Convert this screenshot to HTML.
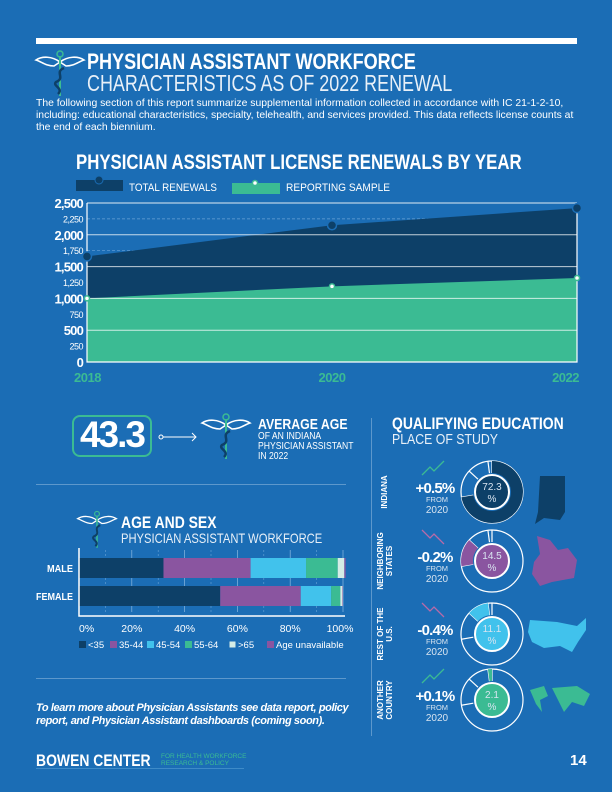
<!DOCTYPE html>
<html><head><meta charset="utf-8">
<style>
*{margin:0;padding:0;box-sizing:border-box}
body{width:612px;height:792px;background:#1b6db5;font-family:"Liberation Sans",sans-serif;color:#fff;position:relative;overflow:hidden}
.a{position:absolute;white-space:nowrap}
.b{font-weight:bold}
.sx{transform-origin:0 0;transform:scaleX(.82)}
</style></head><body>
<div class="a" style="left:36px;top:38px;width:541px;height:6px;background:#fff"></div>

<svg class="a" style="left:34px;top:50px" width="52" height="48" viewBox="0 0 52 48">
<path d="M26 12 C18 6 8 6 2 10 C8 12 12 16 20 16 Z" fill="none" stroke="#fff" stroke-width="1.6"/>
<path d="M26 12 C34 6 44 6 50 10 C44 12 40 16 32 16 Z" fill="none" stroke="#fff" stroke-width="1.6"/>
<line x1="26" y1="6" x2="26" y2="46" stroke="#3bbb93" stroke-width="2"/><circle cx="26" cy="4" r="3" fill="none" stroke="#3bbb93" stroke-width="1.5"/>
<path d="M30 18 C20 22 32 28 22 32 C18 36 30 38 24 44" fill="none" stroke="#0d4068" stroke-width="2.5"/>
</svg>
<div class="a b sx" style="left:87px;top:49px;font-size:22px">PHYSICIAN ASSISTANT WORKFORCE</div>
<div class="a sx" style="left:87px;top:70px;font-size:23px;transform:scaleX(.78);color:#e8f0f8">CHARACTERISTICS AS OF 2022 RENEWAL</div>
<div class="a" style="left:36px;top:98px;font-size:10.4px;line-height:12px">The following section of this report summarize supplemental information collected in accordance with IC 21-1-2-10,<br>including: educational characteristics, specialty, telehealth, and services provided. This data reflects license counts at<br>the end of each biennium.</div>

<div class="a b sx" style="left:76px;top:151px;font-size:21px;transform:scaleX(.8)">PHYSICIAN ASSISTANT LICENSE RENEWALS BY YEAR</div>
<svg class="a" id="chart" style="left:0;top:170px" width="612" height="220"></svg>

<div class="a" style="left:72px;top:415px;width:80px;height:42px;border:2px solid #3bbb93;border-radius:8px"></div>
<div class="a b" style="left:72px;top:414px;width:80px;text-align:center;font-size:37px;letter-spacing:-2px">43.3</div>
<svg class="a" style="left:158px;top:432px" width="42" height="10"><circle cx="3" cy="5" r="2" fill="none" stroke="#fff"/><line x1="5" y1="5" x2="38" y2="5" stroke="#fff"/><path d="M34 1 L38 5 L34 9" fill="none" stroke="#fff"/></svg>
<svg class="a" style="left:200px;top:412px" width="52" height="50" viewBox="0 0 52 48">
<path d="M26 12 C18 6 8 6 2 10 C8 12 12 16 20 16 Z" fill="none" stroke="#fff" stroke-width="1.6"/>
<path d="M26 12 C34 6 44 6 50 10 C44 12 40 16 32 16 Z" fill="none" stroke="#fff" stroke-width="1.6"/>
<line x1="26" y1="6" x2="26" y2="46" stroke="#3bbb93" stroke-width="2"/><circle cx="26" cy="4" r="3" fill="none" stroke="#3bbb93" stroke-width="1.5"/>
<path d="M30 18 C20 22 32 28 22 32 C18 36 30 38 24 44" fill="none" stroke="#0d4068" stroke-width="2.5"/>
</svg>
<div class="a b sx" style="left:258px;top:416px;font-size:15px">AVERAGE AGE</div>
<div class="a sx" style="left:258px;top:431px;font-size:10.5px;line-height:10px">OF AN INDIANA<br>PHYSICIAN ASSISTANT<br>IN 2022</div>

<div class="a" style="left:36px;top:484px;width:310px;height:1px;background:#5d98cc"></div>
<div class="a" style="left:371px;top:418px;width:1px;height:318px;background:#5d98cc"></div>

<svg class="a" style="left:76px;top:510px" width="42" height="40" viewBox="0 0 52 48">
<path d="M26 12 C18 6 8 6 2 10 C8 12 12 16 20 16 Z" fill="none" stroke="#fff" stroke-width="1.6"/>
<path d="M26 12 C34 6 44 6 50 10 C44 12 40 16 32 16 Z" fill="none" stroke="#fff" stroke-width="1.6"/>
<line x1="26" y1="6" x2="26" y2="46" stroke="#3bbb93" stroke-width="2"/><circle cx="26" cy="4" r="3" fill="none" stroke="#3bbb93" stroke-width="1.5"/>
<path d="M30 18 C20 22 32 28 22 32 C18 36 30 38 24 44" fill="none" stroke="#0d4068" stroke-width="2.5"/>
</svg>
<div class="a b sx" style="left:121px;top:513px;font-size:17px">AGE AND SEX</div>
<div class="a sx" style="left:121px;top:530px;font-size:14px;transform:scaleX(.8);color:#e8f0f8">PHYSICIAN ASSISTANT WORKFORCE</div>
<svg class="a" id="bars" style="left:30px;top:548px" width="330" height="110"></svg>

<div class="a" style="left:36px;top:678px;width:310px;height:1px;background:#5d98cc"></div>
<div class="a b" style="left:36px;top:702px;font-size:11px;line-height:13px;font-style:italic;letter-spacing:-.4px">To learn more about Physician Assistants see data report, policy<br>report, and Physician Assistant dashboards (coming soon).</div>

<div class="a b sx" style="left:392px;top:414px;font-size:17px">QUALIFYING EDUCATION</div>
<div class="a sx" style="left:392px;top:431px;font-size:15px;color:#e8f0f8">PLACE OF STUDY</div>
<svg class="a" id="edu" style="left:372px;top:450px" width="240" height="290"></svg>

<div class="a b" style="left:36px;top:751px;font-size:17px;transform-origin:0 0;transform:scaleX(.82)">BOWEN CENTER</div>
<div class="a" style="left:161px;top:753px;font-size:6.5px;line-height:7px;color:#3bbb93">FOR HEALTH WORKFORCE<br>RESEARCH &amp; POLICY</div>
<div class="a" style="left:36px;top:768px;width:208px;height:1px;background:#3e8bc8"></div>
<div class="a b" style="left:570px;top:752px;font-size:15px">14</div>

<script>
const NS="http://www.w3.org/2000/svg";
function mk(p,t,at){const e=document.createElementNS(NS,t);for(const k in at)e.setAttribute(k,at[k]);p.appendChild(e);return e;}

// ---------- renewals chart ----------
const years=["2018","2020","2022"];
const totalRenewals=[1660,2150,2420];
const reportingSample=[1000,1190,1320];
const yTicks=[0,250,500,750,1000,1250,1500,1750,2000,2250,2500];
const yTickLabels=["0","250","500","750","1,000","1,250","1,500","1,750","2,000","2,250","2,500"];
(function(){
 const s=document.getElementById('chart');
 const x0=87,x1=577,yb=192,yt=33,max=2500;
 const X=i=>x0+(x1-x0)*i/(years.length-1), Y=v=>yb-(yb-yt)*v/max;
 let l=mk(s,'rect',{x:76,y:10,width:47,height:11,fill:'#0d4068'});
 
 mk(s,'circle',{cx:99,cy:10,r:4,fill:'#0d4068',stroke:'#1b6db5','stroke-width':1});
 let t=mk(s,'text',{x:129,y:21,fill:'#fff','font-size':11,textLength:88,lengthAdjust:'spacingAndGlyphs'});t.textContent='TOTAL RENEWALS';
 
 l=mk(s,'rect',{x:232,y:13,width:48,height:11,fill:'#3bbb93'});
 
 mk(s,'circle',{cx:255,cy:13,r:2.5,fill:'#fff',stroke:'#3bbb93','stroke-width':1.5});
 t=mk(s,'text',{x:286,y:21,fill:'#fff','font-size':11,textLength:104,lengthAdjust:'spacingAndGlyphs'});t.textContent='REPORTING SAMPLE';
 
 yTicks.forEach((v,i)=>{ if(v%500!==0){const g=mk(s,'line',{x1:x0,x2:x1,y1:Y(v),y2:Y(v),stroke:'#6aa3d6','stroke-width':.7,'stroke-dasharray':'3 2'});}});
 let d='M'+x0+','+Y(0);totalRenewals.forEach((v,i)=>d+=' L'+X(i)+','+Y(v));d+=' L'+x1+','+Y(0)+'Z';
 const a1=mk(s,'path',{d:d,fill:'#0d4068'});
 d='M'+x0+','+Y(0);reportingSample.forEach((v,i)=>d+=' L'+X(i)+','+Y(v));d+=' L'+x1+','+Y(0)+'Z';
 const a2=mk(s,'path',{d:d,fill:'#3bbb93'});
 yTicks.forEach((v,i)=>{ if(v%500===0&&v>0){const g=mk(s,'line',{x1:x0,x2:x1,y1:Y(v),y2:Y(v),stroke:'#fff','stroke-width':1,'stroke-opacity':.75});}});
 yTicks.forEach((v,i)=>{const maj=v%500===0;const tt=mk(s,'text',{x:x0-4,y:Y(v)+(maj?5:3.5),fill:'#fff','font-size':maj?13:9,'font-weight':maj?'bold':'normal','text-anchor':'end','letter-spacing':maj?-.8:-.5});tt.textContent=yTickLabels[i];});
 const ax=mk(s,'polyline',{points:`${x0},${Y(2500)} ${x0},${Y(0)} ${x1},${Y(0)} ${x1},${Y(2500)}`,fill:'none',stroke:'#fff','stroke-width':1.2});
 mk(s,'line',{x1:x0,x2:x1,y1:Y(2500),y2:Y(2500),stroke:'#fff','stroke-width':.8,'stroke-opacity':.6});
 years.forEach((yv,i)=>{
  const c=mk(s,'circle',{cx:X(i),cy:Y(totalRenewals[i]),r:4.5,fill:'#0d4068',stroke:'#1b6db5','stroke-width':1.5});
  const c2=mk(s,'circle',{cx:X(i),cy:Y(reportingSample[i]),r:2.5,fill:'#fff',stroke:'#3bbb93','stroke-width':1.5});
  const anc=i===0?'start':(i===years.length-1?'end':'middle');
  const tt=mk(s,'text',{x:i===0?X(i)-13:(i===years.length-1?X(i)+2:X(i)),y:Y(0)+20,fill:'#3bbb93','font-size':13,'font-weight':'bold','text-anchor':anc,'letter-spacing':-.5});tt.textContent=yv;
 });
})();

// ---------- age & sex bars ----------
const sexes=["MALE","FEMALE"];
const ageGroups=["<35","35-44","45-54","55-64",">65","Age unavailable"];
const maleShares=[32,33,21,12,2.5,0.5];
const femaleShares=[53.5,30.5,11.5,3.5,0.8,0.2];
const pctTicks=[0,20,40,60,80,100];
(function(){
 const s=document.getElementById('bars');
 const colors=['#0d4068','#8a55a0','#41c2ec','#3bbb93','#d4ece6','#8a55a0'];
 const x0=49,x1=313,X=v=>x0+(x1-x0)*v/100;
 const rows=[maleShares,femaleShares],ys=[10,38],h=20;
 [10,30,50,70,90].forEach(v=>{const g=mk(s,'line',{x1:X(v),x2:X(v),y1:2,y2:64,stroke:'#6aa3d6','stroke-width':.6,'stroke-dasharray':'2 2'});});
 pctTicks.slice(1).forEach(v=>{const g=mk(s,'line',{x1:X(v),x2:X(v),y1:2,y2:64,stroke:'#8ab8e0','stroke-width':.7});});
 const lw=[26,37];
 rows.forEach((r,ri)=>{let acc=0;r.forEach((v,i)=>{const b=mk(s,'rect',{x:X(acc),y:ys[ri],width:X(acc+v)-X(acc),height:h,fill:colors[i]});acc+=v;});
  const t=mk(s,'text',{x:43-lw[ri],y:ys[ri]+14,fill:'#fff','font-size':10.5,'font-weight':'bold',textLength:lw[ri],lengthAdjust:'spacingAndGlyphs'});t.textContent=sexes[ri];});
 const ax=mk(s,'polyline',{points:`${x0},0 ${x0},68 ${x1+2},68`,fill:'none',stroke:'#fff','stroke-width':1.5});
 pctTicks.forEach(v=>{const t=mk(s,'text',{x:X(v)+(v===100?-3:0),y:84,fill:'#fff','font-size':10.5,'text-anchor':v===0?'start':'middle'});t.textContent=v+'%';});
 const lx=[49,80,117,155,199,237];
 ageGroups.forEach((g,i)=>{const r=mk(s,'rect',{x:lx[i],y:93,width:7,height:7,fill:colors[i],stroke:i===4?'#1b6db5':'none'});
  const t=mk(s,'text',{x:lx[i]+9,y:100,fill:'#fff','font-size':9.5});t.textContent=g;});
})();

// ---------- education donuts ----------
const eduPlaces=["INDIANA","NEIGHBORING|STATES","REST OF THE|U.S.","ANOTHER|COUNTRY"];
const eduShares=[72.3,14.5,11.1,2.1];
const eduChanges=["+0.5%","-0.2%","-0.4%","+0.1%"];
(function(){
 const s=document.getElementById('edu');
 const colors=['#0d4068','#8a55a0','#41c2ec','#3bbb93'];
 const cys=[42,111,184,250],cx=120,R=31,ri=19;
 const pt=(a,r)=>[cx+r*Math.sin(a),0+(-r*Math.cos(a))];
 eduShares.forEach((v,k)=>{
  const cy=cys[k];const P=(a,r)=>{const p=pt(a,r);return [p[0],p[1]+cy];};
  const o=mk(s,'circle',{cx:cx,cy:cy,r:R,fill:'none',stroke:'#fff','stroke-width':1.2});
  let acc=0;eduShares.forEach(w=>{acc+=w;const a=acc/100*2*Math.PI;const p1=P(a,ri),p2=P(a,R);mk(s,'line',{x1:p1[0],y1:p1[1],x2:p2[0],y2:p2[1],stroke:'#fff','stroke-width':1.2});});
  let st=0;for(let j=0;j<k;j++)st+=eduShares[j];
  const a0=st/100*2*Math.PI,a1=(st+v)/100*2*Math.PI,lg=(a1-a0)>Math.PI?1:0;
  const o1=P(a0,R),o2=P(a1,R),i2=P(a1,ri),i1=P(a0,ri);
  const arc=mk(s,'path',{d:`M${o1} A${R},${R} 0 ${lg} 1 ${o2} L${i2} A${ri},${ri} 0 ${lg} 0 ${i1}Z`,fill:colors[k]});
  
  const c=mk(s,'circle',{cx:cx,cy:cy,r:17,fill:colors[k],stroke:'#fff','stroke-width':2});
  let t=mk(s,'text',{x:cx,y:cy-2,fill:'#d8e4f0','font-size':10,'text-anchor':'middle'});t.textContent=String(v);
  t=mk(s,'text',{x:cx,y:cy+10,fill:'#d8e4f0','font-size':10,'text-anchor':'middle'});t.textContent='%';
  const lines=eduPlaces[k].split('|');
  lines.forEach((ln,li)=>{const yy=cy;const xx=lines.length>1?(11+li*9):15;const tt=mk(s,'text',{x:0,y:0,fill:'#fff','font-size':8,'font-weight':'bold','text-anchor':'middle',transform:`translate(${xx},${yy}) rotate(-90)`});tt.textContent=ln;});
  const up=eduChanges[k][0]==='+';const tc=up?'#3bbb93':'#b86aa8';
  mk(s,'polyline',{points:up?`${50},${cy-17} ${58},${cy-25} ${62},${cy-21} ${72},${cy-31}`:`${50},${cy-31} ${58},${cy-23} ${62},${cy-27} ${72},${cy-17}`,fill:'none',stroke:tc,'stroke-width':1.3});
  t=mk(s,'text',{x:63,y:cy+1,fill:'#fff','font-size':15,'font-weight':'bold','text-anchor':'middle','letter-spacing':-.8});t.textContent=eduChanges[k];
  t=mk(s,'text',{x:65,y:cy+10,fill:'#d8e4f0','font-size':7.5,'text-anchor':'middle'});t.textContent='FROM';
  t=mk(s,'text',{x:65,y:cy+21,fill:'#d8e4f0','font-size':10,'text-anchor':'middle'});t.textContent='2020';
 });
 const m1=mk(s,'path',{d:'M168,26 L193,26 L193,62 L188,70 L172,68 L163,74 L166,62 Z',fill:'#0d4068'});
 const m2=mk(s,'path',{d:'M165,86 L178,90 L186,100 L196,98 L205,110 L202,128 L180,132 L168,136 L160,124 L162,112 L168,104 Z',fill:'#8a55a0'});
 const m3=mk(s,'path',{d:'M158,170 L185,172 L205,176 L214,168 L214,180 L206,192 L200,202 L188,196 L172,198 L160,192 L156,182 Z',fill:'#41c2ec'});
 const m4=mk(s,'path',{d:'M158,240 L172,236 L176,246 L168,250 L170,262 L164,254 Z M180,238 L205,236 L218,244 L212,256 L200,252 L192,262 L186,250 Z',fill:'#3bbb93'});
})();
</script>
</body></html>
